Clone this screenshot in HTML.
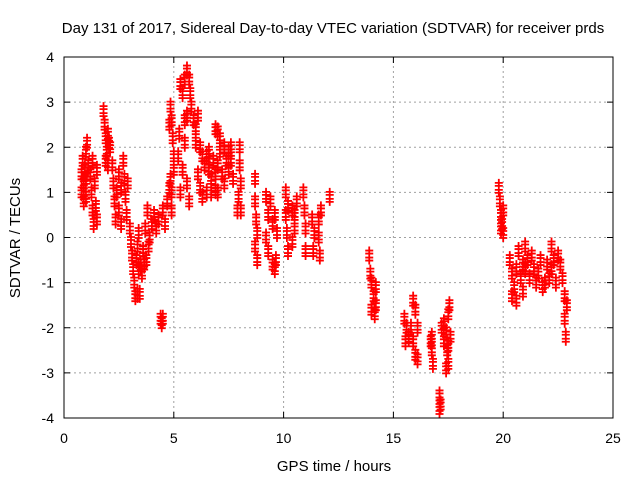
<!DOCTYPE html>
<html><head><meta charset="utf-8"><style>
html,body{margin:0;padding:0;background:#fff}
svg{display:block;font-family:"Liberation Sans",sans-serif}
</style></head><body>
<svg id="chart" width="640" height="480">
<rect width="640" height="480" fill="#fff"/>
<text x="333" y="33" font-size="15" text-anchor="middle">Day 131 of 2017, Sidereal Day-to-day VTEC variation (SDTVAR) for receiver prds</text>
<text x="334" y="471" font-size="15" text-anchor="middle">GPS time / hours</text>
<text x="20" y="238" font-size="15" text-anchor="middle" transform="rotate(-90 20 238)">SDTVAR / TECUs</text>
<g id="grid"></g>
<g id="ticks"></g>
<g id="marks"></g>
<rect x="64" y="57" width="549" height="361" fill="none" stroke="#000" stroke-width="1"/>
</svg>
<script>
const xTicks=[0,5,10,15,20,25];
const yTicks=[-4,-3,-2,-1,0,1,2,3,4];
const times=[0.8,0.8,0.85,0.9,0.9,0.95,1.0,1.0,1.05,1.1,1.0,
1.2,1.25,1.3,1.3,1.35,1.4,1.45,1.5,1.5,
1.8,1.85,1.9,1.95,2.0,2.0,2.05,1.9,2.1,
2.2,2.25,2.3,2.35,2.4,2.5,2.5,2.6,2.7,2.75,2.8,2.85,2.9,2.6,
3.0,3.05,3.1,3.15,3.2,3.25,3.35,3.45,3.3,3.35,3.4,3.5,3.6,3.55,3.7,3.75,3.8,3.85,3.9,4.0,4.1,4.2,4.3,3.65,3.4,
4.4,4.45,4.5,4.5,4.6,4.7,4.8,4.9,4.9,
4.8,4.85,4.9,4.95,5.0,5.0,4.85,4.9,
5.3,5.4,5.5,5.6,5.7,5.75,5.8,5.5,5.4,5.6,5.7,5.5,5.6,5.9,6.0,6.1,6.0,6.2,6.3,6.4,6.1,6.2,6.3,6.5,6.6,6.7,6.6,6.8,6.9,7.0,7.1,7.2,7.3,7.4,7.5,6.5,6.7,6.9,7.0,6.9,7.0,7.1,7.3,7.5,7.6,7.7,7.6,5.3,5.2,5.25,
8.0,8.0,8.05,7.95,8.05,7.9,
8.7,8.7,8.75,8.8,8.7,8.8,9.2,9.3,9.2,9.3,9.4,9.5,9.5,9.6,9.6,9.7,9.65,
10.1,10.1,10.15,10.2,10.2,10.4,10.5,10.6,10.5,10.4,10.9,10.95,11.0,11.0,11.3,11.4,11.35,11.6,11.6,11.65,11.7,12.1,
13.9,13.95,14.0,14.1,14.0,14.15,14.2,14.2,
15.5,15.6,15.7,15.8,15.9,16.0,15.9,16.0,16.1,15.55,16.1,
16.7,16.75,16.8,16.75,
17.1,17.15,17.1,
17.2,17.3,17.4,17.45,17.5,17.4,17.55,17.5,17.6,17.5,17.3,
19.8,19.85,19.9,19.95,20.0,20.0,19.9,
20.3,20.4,20.5,20.6,20.4,20.6,20.7,20.8,20.9,20.9,21.0,21.1,21.2,21.3,21.4,21.5,21.6,21.7,21.8,21.9,22.0,22.1,22.2,22.3,22.4,22.5,22.6,22.7,22.8,22.8,22.85,22.9,22.2,21.0];
const values=[1.0,1.4,1.7,1.2,0.8,1.5,1.9,1.3,2.1,1.6,0.9,
1.4,1.0,0.6,1.7,0.3,1.2,0.7,1.5,0.4,
2.8,2.5,2.2,1.9,2.3,1.6,2.1,1.7,2.0,
1.6,1.2,0.8,0.4,1.0,1.4,0.6,1.1,1.7,1.3,0.9,0.5,1.2,0.3,
0.2,-0.1,-0.4,-0.7,-1.0,-1.3,-1.25,-1.25,-0.5,-0.2,0.1,-0.6,-0.3,-0.8,0.2,-0.5,0.6,-0.2,0.0,0.3,0.5,0.2,0.4,-0.6,-0.7,
-1.8,-1.9,-1.8,0.6,0.3,0.8,1.1,1.0,0.6,
2.5,2.9,2.6,2.2,1.8,1.5,1.3,1.0,
3.4,3.2,3.5,3.7,3.5,3.2,2.9,2.1,1.5,1.2,0.8,2.6,2.7,2.6,2.4,2.7,2.1,2.0,1.8,1.6,1.4,1.1,0.9,1.8,1.5,1.3,1.9,1.7,1.4,1.6,1.9,1.4,1.2,1.7,1.5,1.0,1.0,1.05,1.0,2.4,2.35,2.2,2.0,1.9,1.7,1.3,2.0,1.0,1.8,2.3,
2.0,1.6,1.2,0.9,0.6,0.6,
1.3,0.8,0.4,0.1,-0.2,-0.5,0.9,0.5,0.0,-0.3,0.8,0.3,-0.6,-0.7,0.5,0.1,-0.5,
1.0,0.5,0.1,-0.3,0.7,0.6,0.2,0.8,0.5,-0.1,1.0,0.6,0.2,-0.3,0.4,0.1,-0.3,0.4,0.0,-0.4,0.6,0.9,
-0.4,-0.8,-1.0,-1.3,-1.6,-1.7,-1.1,-1.5,
-1.8,-2.0,-2.2,-2.0,-1.4,-1.6,-2.3,-2.6,-2.7,-2.3,-2.0,
-2.3,-2.5,-2.8,-2.2,
-3.5,-3.7,-3.8,
-2.0,-1.9,-2.1,-2.5,-2.8,-2.9,-1.5,-1.7,-2.2,-2.4,-2.3,
1.1,0.8,0.5,0.3,0.1,0.6,0.2,
-0.5,-0.8,-1.1,-1.4,-1.3,-0.7,-0.3,-0.9,-0.6,-1.2,-0.2,-0.5,-0.9,-0.4,-0.7,-1.0,-0.8,-0.5,-1.1,-1.0,-0.6,-0.9,-0.7,-0.5,-1.0,-0.4,-0.6,-0.9,-1.3,-1.8,-2.2,-1.5,-0.2,-0.7];
const X0=64,X1=613,Y0=418,Y1=57;
function sx(t){return X0+(t-0)/(25-0)*(X1-X0);}
function sy(v){return Y0-(v+4)/8*(Y0-Y1);}
const NS='http://www.w3.org/2000/svg';
const grid=document.getElementById('grid'),ticks=document.getElementById('ticks'),marks=document.getElementById('marks');
function mk(tag,attrs,parent){const e=document.createElementNS(NS,tag);for(const k in attrs)e.setAttribute(k,attrs[k]);parent.appendChild(e);return e;}
xTicks.forEach(t=>{const x=sx(t);
 if(t>0&&t<25){const g=mk('line',{x1:x,x2:x,y1:Y0,y2:Y1,stroke:'#a0a0a0','stroke-dasharray':'2,3'},grid);
 
 }
 const a=mk('line',{x1:x,x2:x,y1:Y0,y2:Y0-6,stroke:'#000'},ticks);
 
 
 const b=mk('line',{x1:x,x2:x,y1:Y1,y2:Y1+6,stroke:'#000'},ticks);
 
 
 const l=mk('text',{x:x,y:443,'font-size':14,'text-anchor':'middle'},ticks);l.textContent=t;
 
 
});
yTicks.forEach(v=>{const y=sy(v);
 if(v>-4&&v<4){const g=mk('line',{x1:X0,x2:X1,y1:y,y2:y,stroke:'#a0a0a0','stroke-dasharray':'2,3'},grid);
 
 }
 const a=mk('line',{x1:X0,x2:X0+6,y1:y,y2:y,stroke:'#000'},ticks);
 
 
 const b=mk('line',{x1:X1,x2:X1-6,y1:y,y2:y,stroke:'#000'},ticks);
 
 
 const l=mk('text',{x:54,y:y+5,'font-size':14,'text-anchor':'end'},ticks);l.textContent=v;
 
 
});
let d='';
for(let i=0;i<times.length;i++){const x=sx(times[i]),y=sy(values[i]);
 for(const o of [-5,-2,2,5]){d+=`M${x-4},${y+o}h8M${x},${y+o-4}v8`;}
}
const p=mk('path',{d:d,stroke:'#ff0000','stroke-width':1.8,fill:'none'},marks);


</script>
</body></html>
